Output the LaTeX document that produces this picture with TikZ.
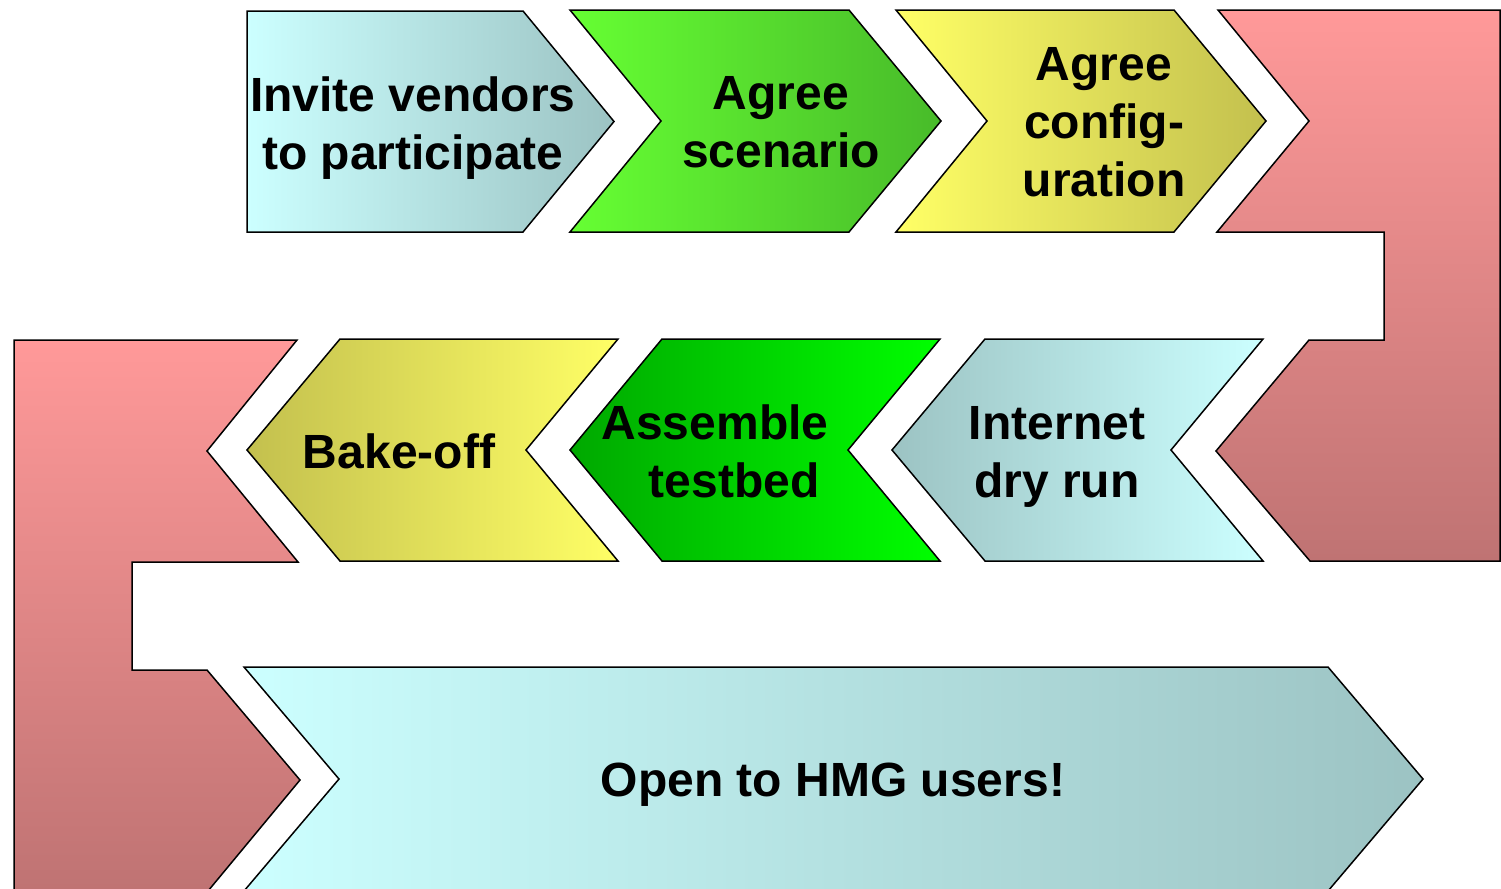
\documentclass[tikz,border=0pt]{standalone}
\usepackage{fontspec}
\setmainfont{Liberation Sans}
\definecolor{cyanL}{HTML}{CCFFFF}
\definecolor{cyanD}{HTML}{9CC3C3}
\definecolor{greenL}{HTML}{66FF33}
\definecolor{greenD}{HTML}{48BB2A}
\definecolor{yelL}{HTML}{FFFF66}
\definecolor{yelD}{HTML}{C3C04E}
\definecolor{grnA}{HTML}{00A800}
\definecolor{grnB}{HTML}{00FF00}
\definecolor{pinkT}{HTML}{FF9999}
\definecolor{pinkB}{HTML}{BF7373}
\begin{document}
\begin{tikzpicture}[x=0.5pt,y=-0.5pt,line join=miter,
  shp/.style={draw=black,line width=0.75pt},
  lbl/.style={font=\bfseries\fontsize{24}{29}\selectfont,align=center,inner sep=0pt}]
\useasboundingbox (0,0) rectangle (1501,889);
\clip (0,0) rectangle (1501,889);
% ---- row 1
\path[shp,left color=cyanL,right color=cyanD]
  (247,11) -- (523,11) -- (614,121.5) -- (523,232) -- (247,232) -- cycle;
\path[shp,left color=greenL,right color=greenD]
  (570,10) -- (849,10) -- (941,121) -- (849,232) -- (570,232) -- (661,121) -- cycle;
\path[shp,left color=yelL,right color=yelD]
  (896,10) -- (1174,10) -- (1266,121) -- (1174,232) -- (896,232) -- (987,121) -- cycle;
% ---- right U-turn
\path[shp,top color=pinkT,bottom color=pinkB]
  (1218,10) -- (1500,10) -- (1500,561) -- (1310,561) -- (1216,451) -- (1309,340)
  -- (1384,340) -- (1384,232) -- (1217,232) -- (1309,121) -- cycle;
% ---- row 2
\path[shp,left color=cyanD,right color=cyanL]
  (892,450) -- (985,339) -- (1263,339) -- (1171,450) -- (1263,561) -- (985,561) -- cycle;
\path[shp,left color=grnA,right color=grnB]
  (570,450) -- (662,339) -- (940,339) -- (848,450) -- (940,561) -- (662,561) -- cycle;
\path[shp,left color=yelD,right color=yelL]
  (247,450) -- (340,339) -- (618,339) -- (526,450) -- (618,561) -- (340,561) -- cycle;
% ---- left U-turn
\path[shp,top color=pinkT,bottom color=pinkB]
  (14,340) -- (297,340) -- (207,451) -- (298,562) -- (132,562) -- (132,670)
  -- (207,670) -- (300,780) -- (208,891) -- (14,891) -- cycle;
% ---- row 3
\path[shp,left color=cyanL,right color=cyanD]
  (244,667) -- (1328,667) -- (1423,779) -- (1328,891) -- (244,891) -- (339,779) -- cycle;
% ---- labels
\node[lbl] (invite) at (413,128) {Invite vendors\\to participate};
\node[lbl] (scen) at (781,122) {Agree\\scenario};
\node[lbl] (conf) at (1104,122) {Agree\\config-\\uration};
\node[lbl] (dry) at (1057,457) {Internet\\dry run};
\node[lbl] (asm) at (734,451) {Assemble\hspace*{19pt}\\testbed};
\node[lbl] (bake) at (399,451) {Bake-off};
\node[lbl] (open) at (833,785) {Open to HMG users!};
\end{tikzpicture}
\end{document}
